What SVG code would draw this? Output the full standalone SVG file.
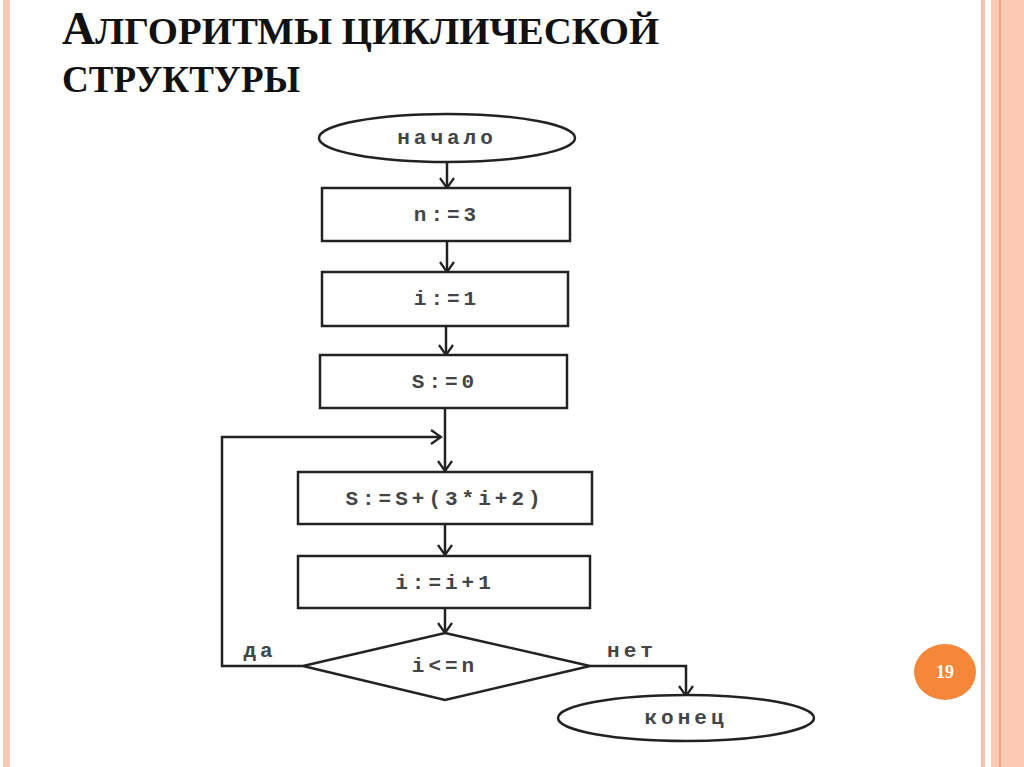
<svg xmlns="http://www.w3.org/2000/svg" width="1024" height="767" viewBox="0 0 1024 767">
  <defs>
    <marker id="arr" viewBox="0 0 16 16" refX="14" refY="8" markerWidth="16" markerHeight="16" markerUnits="userSpaceOnUse" orient="auto">
      <path d="M4,1 L14,8 L4,15" fill="none" stroke="#222" stroke-width="2.2"/>
    </marker>
  </defs>
  <style>
    .shape { fill: #fff; stroke: #222; stroke-width: 2.5; }
    .conn { fill: none; stroke: #222; stroke-width: 2.5; }
    .lbl { font-family: "Liberation Mono", "DejaVu Sans Mono", monospace; font-size: 21px; font-weight: bold; fill: #444; text-anchor: middle; letter-spacing: 4px; }
    .title { font-family: "Liberation Serif", serif; font-weight: bold; fill: #111; }
  </style>
  <rect width="1024" height="767" fill="#fff"/>
  <!-- slide decoration -->
  <rect x="3" y="0" width="7" height="767" fill="#fbc8b4"/>
  <rect x="981" y="0" width="4" height="767" fill="#f6c2b2"/>
  <rect x="991" y="0" width="33" height="767" fill="#fcc9b5"/>
  <rect x="999" y="0" width="2" height="767" fill="#f2a07e"/>
  <!-- title -->
  <text class="title" x="62" y="44"><tspan font-size="46">А</tspan><tspan font-size="38" textLength="564" lengthAdjust="spacingAndGlyphs">ЛГОРИТМЫ ЦИКЛИЧЕСКОЙ</tspan></text>
  <text class="title" x="62" y="92" font-size="38" textLength="238" lengthAdjust="spacingAndGlyphs">СТРУКТУРЫ</text>
  <!-- connectors -->
  <g id="connectors">
    <line class="conn" x1="447" y1="162" x2="447" y2="188" marker-end="url(#arr)"/>
    <line class="conn" x1="447" y1="241" x2="447" y2="272" marker-end="url(#arr)"/>
    <line class="conn" x1="446" y1="326" x2="446" y2="355" marker-end="url(#arr)"/>
    <line class="conn" x1="445" y1="408" x2="445" y2="471" marker-end="url(#arr)"/>
    <polyline class="conn" points="303,666 222,666 222,437 441,437" marker-end="url(#arr)"/>
    <line class="conn" x1="445" y1="524" x2="445" y2="555" marker-end="url(#arr)"/>
    <line class="conn" x1="445" y1="608" x2="445" y2="633" marker-end="url(#arr)"/>
    <polyline class="conn" points="590,666 686,666 686,696" marker-end="url(#arr)"/>
    <text class="lbl" x="260" y="657">да</text>
    <text class="lbl" x="632" y="657">нет</text>
  </g>
  <g id="start">
    <ellipse class="shape" cx="447" cy="138" rx="128" ry="24"/>
    <text class="lbl" x="447" y="144">начало</text>
  </g>
  <g id="n3">
    <rect class="shape" x="322" y="188" width="248" height="53"/>
    <text class="lbl" x="447" y="221">n:=3</text>
  </g>
  <g id="i1">
    <rect class="shape" x="322" y="272" width="246" height="54"/>
    <text class="lbl" x="447" y="305">i:=1</text>
  </g>
  <g id="s0">
    <rect class="shape" x="320" y="355" width="247" height="53"/>
    <text class="lbl" x="445" y="388">S:=0</text>
  </g>
  <g id="sum">
    <rect class="shape" x="298" y="472" width="294" height="52"/>
    <text class="lbl" x="445" y="505">S:=S+(3*i+2)</text>
  </g>
  <g id="inc">
    <rect class="shape" x="298" y="556" width="292" height="52"/>
    <text class="lbl" x="445" y="589">i:=i+1</text>
  </g>
  <g id="cond">
    <polygon class="shape" points="445,633 590,666 445,700 303,666"/>
    <text class="lbl" x="445" y="672">i&lt;=n</text>
  </g>
  <g id="end">
    <ellipse class="shape" cx="686" cy="718" rx="128" ry="23"/>
    <text class="lbl" x="686" y="724">конец</text>
  </g>
  <g id="page">
    <ellipse cx="945" cy="672" rx="31" ry="28" fill="#f5873a"/>
    <text x="945" y="678" font-family="Liberation Serif, serif" font-weight="bold" font-size="18" fill="#fff" text-anchor="middle">19</text>
  </g>
</svg>
